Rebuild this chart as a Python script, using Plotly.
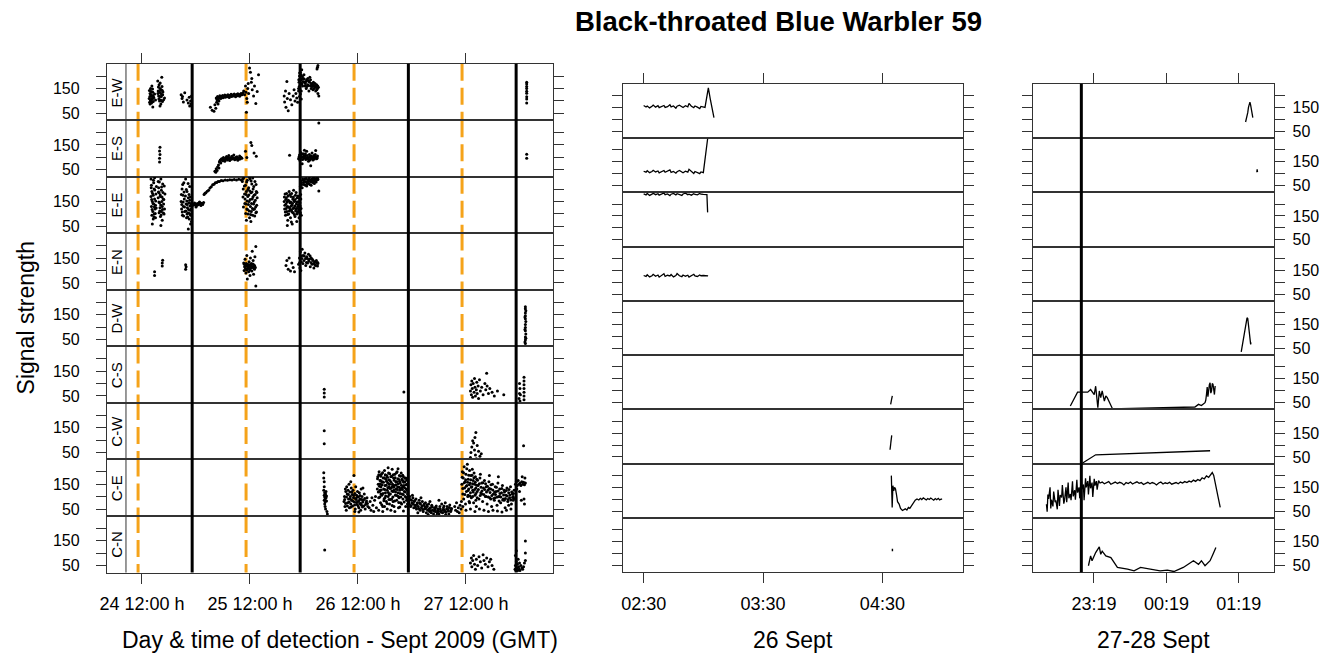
import plotly.graph_objects as go

W, H = 1336, 655
FONT = "Liberation Sans, Arial, sans-serif"

# ---------------- categories / ticks ----------------
stations = ["E-W", "E-S", "E-E", "E-N", "D-W", "C-S", "C-W", "C-E", "C-N"]

left_tickvals = [12, 36, 60, 84]          # hours since 24 Sept 00:00 GMT
left_ticktext = ["24 12:00 h", "25 12:00 h", "26 12:00 h", "27 12:00 h"]
mid_tickvals = [2.5, 3.5, 4.5]            # hours on 26 Sept
mid_ticktext = ["02:30", "03:30", "04:30"]
right_tickvals = [23.3167, 24.3167, 25.3167]  # hours since 27 Sept 00:00
right_ticktext = ["23:19", "00:19", "01:19"]
y_tickvals = [50, 100, 150, 200]
y_ticktext = ["50", "", "150", ""]

noon_hours = [11.13, 35.13, 59.13, 83.13]          # orange dashed lines (left panel)
sunset_hours_left = [23.15, 47.15, 71.2, 95.15]     # black lines (left panel)
sunset_hours_right = [23.142]                       # black line (right panel)

# ---------------- left panel detections (hour, signal) ----------------
left_ew = [
    (13.6,110),(13.7,95),(13.8,130),(13.8,88),(13.9,150),(14.0,102),(14.1,120),(14.1,92),(14.2,160),(14.3,108),
    (14.4,135),(14.5,98),(14.6,115),(14.8,128),(15.0,104),(15.5,180),(15.6,140),(15.7,120),(15.8,165),(15.9,100),
    (16.0,150),(16.1,132),(16.2,88),(16.3,118),(16.4,195),(16.5,142),(16.6,125),(16.8,105),(17.0,112),(14.4,76),(16.0,80),
    (20.7,125),(20.9,110),(21.0,118),(21.2,96),(21.5,133),(22.0,104),(22.3,92),(22.5,115),(22.6,80),(22.8,100),(22.9,88),(23.0,120),
    (27.2,75),(27.6,62),(28.0,58),(28.2,85),(28.4,70),(28.6,95),(28.9,88),(29.1,100),
    (28.5,112),(28.7,104),(28.8,118),(29.0,109),(29.2,115),(29.3,121),(29.5,110),(29.7,117),(29.9,122),(30.0,113),
    (30.2,119),(30.4,124),(30.5,115),(30.7,121),(30.9,117),(31.1,125),(31.2,120),(31.4,114),(31.6,122),(31.8,127),
    (31.9,118),(32.1,124),(32.3,120),(32.5,128),(32.6,122),(32.8,117),(33.0,126),(33.2,121),(33.3,129),(33.5,124),
    (33.7,119),(33.9,127),(34.0,130),(34.2,125),(34.4,132),
    (34.6,140),(34.8,125),(35.0,160),(35.1,135),(35.2,54),(35.3,110),(35.4,95),(35.5,150),(35.7,130),(35.9,232),
    (36.1,215),(36.3,175),(36.5,145),(36.8,120),(37.0,160),(37.3,90),(37.6,138),(37.9,205),(36.4,190),(35.6,170),
    (43.6,120),(43.7,96),(43.9,140),(44.0,75),(44.2,178),(44.3,110),(44.5,60),(44.7,130),(45.0,105),(45.3,85),
    (45.6,120),(45.8,145),(46.0,100),(46.2,130),(46.4,112),(46.6,95),(46.8,140),(47.0,118),(47.2,128),(47.4,108),
    (46.8,150),(46.9,175),(47.0,200),(47.1,165),(47.2,215),(47.3,185),(47.4,140),(47.5,225),(47.7,160),(47.8,190),
    (48.0,205),(48.1,175),(48.3,170),(48.5,150),(48.6,185),(48.8,165),(49.0,180),(49.1,140),(49.3,195),(49.5,160),
    (49.6,150),(49.8,170),(50.0,145),(50.1,175),(50.3,160),(50.5,155),(50.6,140),(50.8,165),(51.0,150),(51.1,130),
    (51.2,155),(51.3,120),(51.0,235),(50.9,228),(51.1,242),
    (97.5,92),(97.5,108),(97.5,117),(97.5,131),(97.5,139),(97.5,150),(97.5,158),(97.5,168),(97.5,175),
]
left_ew_extra = [
    (13.65,142),(13.75,118),(13.85,104),(13.95,126),(14.05,138),(14.15,110),(14.25,96),(14.35,148),(14.45,122),(14.55,112),
    (15.55,130),(15.65,156),(15.75,108),(15.85,138),(15.95,118),(16.05,172),(16.15,104),(16.25,145),(16.35,126),(16.45,158),
    (16.55,98),(16.65,136),
    (28.6,110),(29.1,113),(29.6,118),(30.1,117),(30.6,120),(31.0,119),(31.5,122),(32.0,121),(32.4,124),(32.9,123),
    (33.4,126),(33.8,125),(34.3,128),
    (46.85,185),(46.95,158),(47.05,212),(47.15,190),(47.25,172),(47.35,205),(47.45,188),(47.55,168),(47.65,198),(47.75,178),
    (48.05,188),(48.25,160),(48.45,178),(48.65,158),(48.85,190),(49.05,162),(49.25,175),(49.45,185),(49.65,168),(49.85,158),
    (50.05,165),(50.25,150),(50.45,170),(50.65,158),(50.85,145),(51.05,160),
]
left_es = [
    (15.9,82),(15.9,97),(16.0,112),(15.9,126),(16.0,141),
    (28.2,45),(28.4,40),(28.5,55),(28.7,48),(28.8,62),(29.0,70),(29.1,58),
    (29.2,82),(29.4,90),(29.5,78),(29.7,95),(29.9,87),(30.1,100),(30.2,92),(30.4,85),(30.6,98),(30.8,104),
    (31.0,90),(31.1,96),(31.3,108),(31.5,88),(31.7,99),(31.9,93),(32.0,105),(32.2,97),(32.4,110),(32.6,91),
    (32.8,100),(32.9,95),(33.1,103),(33.3,89),(33.5,98),(33.7,106),(33.8,94),(34.0,101),(34.2,97),
    (35.0,125),(35.3,100),(36.2,160),(36.4,148),(36.9,118),(37.4,105),
    (44.8,109),
    (46.8,95),(47.0,110),(47.1,88),(47.3,120),(47.5,102),(47.6,75),(47.8,115),(48.0,98),(48.2,106),(48.4,92),
    (48.6,125),(48.8,100),(49.0,85),(49.2,112),(49.4,104),(49.6,96),(49.8,118),(50.0,90),(50.2,108),(50.4,100),
    (50.6,128),(50.8,95),(51.0,106),(49.5,67),(48.1,129),
    (51.3,238),
    (97.5,97),(97.5,113),
]
left_es_extra = [
    (29.3,86),(29.6,92),(30.0,96),(30.3,89),(30.7,94),(31.2,101),(31.6,94),(32.1,100),(32.5,96),(33.0,98),(33.4,94),(33.9,99),
    (46.9,102),(47.2,96),(47.45,112),(47.7,92),(47.95,105),(48.3,115),(48.5,98),(48.7,108),(48.95,94),(49.1,100),
    (49.35,90),(49.65,106),(49.9,98),(50.1,102),(50.3,94),(50.5,112),(50.7,102),(50.95,98),
]
left_ee = [
    (14.0,240),(14.1,215),(14.2,190),(14.0,170),(14.3,150),(14.1,130),(14.4,110),(14.2,95),(14.5,80),(14.3,60),
    (14.6,225),(14.7,200),(14.5,175),(14.8,160),(14.6,140),(14.9,120),(14.7,100),(15.0,85),(14.8,245),(15.1,180),
    (15.0,135),(15.2,210),(15.6,230),(15.7,205),(15.8,185),(15.6,165),(15.9,145),(16.0,125),(15.8,105),(16.1,90),
    (16.2,240),(16.3,195),(16.1,170),(16.4,150),(16.5,130),(16.3,110),(16.6,220),(16.7,160),(16.8,140),(16.9,100),
    (17.0,120),(16.5,75),(17.1,180),(16.2,54),
    (20.7,150),(20.8,120),(20.9,200),(21.0,95),(21.1,175),(21.2,130),(21.4,160),(21.5,110),(21.7,240),(21.8,140),
    (21.9,85),(22.0,190),(22.1,125),(22.2,105),(22.3,165),(22.4,145),(22.5,80),(22.6,210),(22.7,115),(22.8,95),
    (22.9,135),(23.0,70),(22.6,155),(22.3,40),(22.8,60),(21.3,225),(22.0,100),(22.9,120),
    (23.1,133),(23.3,140),(23.5,136),(23.7,144),(23.9,138),(24.1,132),(24.3,142),(24.5,137),(24.7,145),(24.9,139),
    (25.1,134),(25.3,143),(25.5,138),(25.7,146),(24.0,128),(24.8,148),
    (25.8,178),(26.0,183),(26.2,185),(26.5,191),(26.8,195),(27.1,204),(27.4,209),(27.7,217),(28.0,219),(28.3,225),
    (28.6,226),(28.9,230),(29.2,230),(29.6,234),(30.0,233),(30.5,236),(31.0,235),(31.5,237),(32.0,236),(32.5,238),
    (33.0,236),(33.5,239),(34.0,237),(34.4,239),
    (34.3,230),(34.5,200),(34.6,245),(34.8,180),(34.9,160),(35.0,215),(35.1,140),(35.2,190),(35.3,120),(35.4,235),
    (35.5,170),(35.6,100),(35.7,205),(35.8,150),(35.9,85),(36.0,240),(36.1,130),(36.2,185),(36.3,110),(36.4,220),
    (36.5,160),(36.6,95),(36.7,200),(36.8,140),(36.9,175),(37.0,120),(37.1,230),(37.2,155),(37.3,105),(37.4,190),
    (37.5,135),(37.6,165),(35.2,75),(36.2,70),(35.9,246),(36.6,244),
    (43.6,150),(43.7,120),(43.8,180),(43.9,95),(44.0,140),(44.1,165),(44.2,110),(44.3,130),(44.4,75),(44.5,155),
    (44.6,100),(44.7,190),(44.8,125),(44.9,145),(45.0,85),(45.1,170),(45.2,115),(45.3,135),(45.4,60),(45.5,160),
    (45.6,105),(45.7,195),(45.8,125),(45.9,150),(46.0,90),(46.1,175),(46.2,120),(46.3,140),(46.4,100),(46.5,165),
    (46.6,130),(46.7,110),(46.8,150),(46.9,85),(47.0,125),(47.1,145),(47.2,105),(47.3,160),(47.4,95),(44.3,54),
    (45.2,68),(46.4,70),
    (47.2,210),(47.4,225),(47.6,205),(47.8,235),(48.0,218),(48.2,240),(48.4,228),(48.6,212),(48.8,236),(49.0,222),
    (49.2,244),(49.4,230),(49.6,215),(49.8,238),(50.0,226),(50.2,245),(50.4,232),(50.6,240),(50.8,236),(51.0,243),
    (51.1,238),(51.3,192),
]
left_ee_extra = [
    (14.05,205),(14.15,158),(14.25,118),(14.35,182),(14.45,142),(14.55,235),(14.65,88),(14.75,128),(14.85,196),(14.95,102),
    (15.05,152),(15.15,124),(15.65,188),(15.75,148),(15.85,228),(15.95,112),(16.05,176),(16.15,136),(16.25,96),(16.35,208),
    (16.45,168),(16.55,118),(16.65,186),(16.75,104),(16.85,158),(16.95,212),
    (20.75,178),(20.85,138),(20.95,108),(21.05,218),(21.15,148),(21.25,92),(21.35,188),(21.45,128),(21.65,172),(21.75,112),
    (21.85,198),(21.95,152),(22.05,138),(22.15,88),(22.25,222),(22.35,118),(22.45,178),(22.55,102),(22.65,132),(22.75,168),
    (22.85,142),(22.95,98),
    (34.45,168),(34.55,128),(34.75,212),(34.85,142),(35.05,102),(35.15,178),(35.25,228),(35.35,152),(35.45,118),(35.55,198),
    (35.65,138),(35.75,176),(35.85,112),(35.95,192),(36.05,158),(36.15,98),(36.25,232),(36.35,142),(36.45,188),(36.55,122),
    (36.65,168),(36.75,118),(36.85,210),(36.95,148),(37.05,92),(37.15,178),(37.25,128),(37.35,218),(37.45,108),(37.55,186),
    (43.65,168),(43.75,135),(43.85,108),(43.95,158),(44.05,122),(44.15,182),(44.25,148),(44.35,98),(44.45,172),(44.55,128),
    (44.65,152),(44.75,112),(44.85,178),(44.95,118),(45.05,148),(45.15,132),(45.25,182),(45.35,108),(45.45,142),(45.55,122),
    (45.65,168),(45.75,152),(45.85,98),(45.95,132),(46.05,158),(46.15,112),(46.25,186),(46.35,122),(46.45,148),(46.55,108),
    (46.65,172),(46.75,138),(46.85,118),(46.95,162),(47.05,102),(47.15,132),(47.25,178),(47.35,122),
    (47.3,232),(47.5,218),(47.7,240),(47.9,226),(48.1,232),(48.3,215),(48.5,242),(48.7,222),(48.9,230),(49.1,238),
    (49.3,218),(49.5,236),(49.7,228),(49.9,242),(50.1,234),(50.3,222),(50.5,240),(50.7,228),(50.9,244),
]
left_en = [
    (14.8,80),(14.8,95),(16.5,118),(16.5,130),(16.6,141),(21.7,105),(21.8,115),(21.7,123),
    (34.6,130),(34.7,100),(34.8,115),(34.9,145),(35.0,108),(35.1,90),(35.2,120),(35.3,160),(35.4,105),(35.5,125),
    (35.6,112),(35.7,95),(35.8,135),(35.9,118),(36.0,102),(36.1,150),(36.2,110),(36.3,128),(36.4,98),(36.5,177),
    (36.6,116),(36.7,140),(36.8,85),(36.9,122),(37.0,105),(37.1,155),(37.2,112),(35.4,66),(36.0,80),(37.3,196),(37.3,38),
    (44.0,120),(44.2,140),(44.5,105),(44.7,150),(45.0,98),(45.3,130),(45.6,112),(45.9,95),
    (46.8,125),(47.0,150),(47.1,110),(47.2,175),(47.4,135),(47.6,185),(47.8,160),(48.0,140),(48.2,170),(48.4,120),
    (48.6,155),(48.8,130),(49.0,165),(49.2,145),(49.4,115),(49.6,150),(49.8,125),(50.0,140),(50.2,110),(50.4,135),
    (50.6,120),(50.8,130),(51.0,118),(51.1,128),(47.3,100),
]
left_en_extra = [
    (34.75,125),(34.95,118),(35.15,128),(35.25,102),(35.45,116),(35.65,120),(35.85,108),(36.05,124),(36.25,118),(36.45,112),
    (36.65,126),(36.85,110),(37.05,118),(47.05,132),(47.35,158),(47.55,148),(47.75,128),(48.05,158),(48.35,148),(48.55,132),
    (48.75,148),(49.05,138),(49.35,158),(49.55,132),(49.85,145),(50.15,128),(50.45,122),(50.75,140),(51.05,132),
]
left_dw = [
    (97.2,34),(97.2,48),(97.2,60),(97.3,72),(97.2,85),(97.2,98),(97.2,110),(97.3,122),(97.2,133),(97.2,145),
    (97.2,156),(97.3,165),(97.2,173),(97.2,181),(97.1,40),(97.3,55),(97.1,90),(97.1,140),
]
left_cs = [
    (52.5,46),(52.5,62),(52.5,77),(70.2,66),
    (85.0,70),(85.1,95),(85.2,55),(85.3,110),(85.4,80),(85.5,45),(85.6,100),(85.8,65),(85.9,120),(86.0,85),
    (86.1,50),(86.3,75),(86.4,105),(86.5,60),(86.7,90),(86.8,40),(87.0,115),(87.2,70),(87.5,85),(87.8,55),
    (88.6,141),(88.2,100),(88.4,75),(88.7,90),(89.0,60),(89.3,80),(89.8,65),(90.3,50),(91.0,70),(92.4,55),
    (95.8,40),(95.9,60),(96.0,80),(95.9,100),(96.1,55),(96.0,30),
    (96.9,125),(96.9,110),(96.9,95),(96.9,80),(96.9,65),(96.9,50),(96.9,35),
]
left_cw = [
    (52.5,137),(52.5,85),
    (85.0,30),(85.1,50),(85.3,72),(85.5,97),(85.7,88),(85.9,60),(86.1,40),(86.3,25),(86.5,78),(86.8,55),
    (87.1,35),(87.4,45),(86.0,110),(86.2,130),
    (96.8,77),
]
left_ce = [
    (52.4,196),(52.4,175),(52.5,160),(52.5,140),(52.4,125),(52.6,115),(52.5,105),(52.6,98),(52.7,90),(52.5,85),
    (52.7,78),(52.6,70),(52.8,110),(52.9,95),(52.7,60),(52.8,50),(53.0,82),(53.1,40),(53.2,30),(53.0,102),(52.9,120),
    (56.9,80),(57.0,100),(57.1,60),(57.2,130),(57.3,120),(57.4,45),(57.5,140),(57.6,110),(57.7,75),(57.8,125),
    (57.9,90),(58.0,150),(58.1,55),(58.2,118),(58.3,100),(58.4,70),(58.5,135),(58.6,85),(58.7,108),(58.8,62),
    (58.9,125),(59.0,95),(59.1,185),(59.2,78),(59.3,112),(59.4,50),(59.5,140),(59.6,88),(59.7,105),(59.8,68),
    (59.9,120),(60.0,80),(60.1,98),(60.2,55),(60.3,115),(60.4,72),(60.5,90),(60.6,45),(60.7,130),(60.8,65),
    (60.9,100),(61.0,58),(61.2,85),(61.4,110),(61.6,50),(61.8,75),(62.0,95),(62.2,60),(59.3,40),(58.4,160),
    (61.1,135),(60.2,38),
    (62.5,55),(62.7,80),(62.9,45),(63.1,95),(63.3,65),(63.5,40),(63.7,85),(63.9,100),(64.1,55),(64.3,130),
    (64.4,180),(64.5,150),(64.6,95),(64.7,200),(64.8,120),(64.9,165),(65.0,75),(65.1,140),(65.2,190),(65.3,105),
    (65.4,160),(65.5,60),(65.6,175),(65.7,130),(65.8,90),(65.9,205),(66.0,145),(66.1,115),(66.2,170),(66.3,80),
    (66.4,185),(66.5,125),(66.6,155),(66.7,100),(66.8,195),(66.9,140),(67.0,70),(67.1,165),(67.2,110),(67.3,180),
    (67.4,135),(67.5,90),(67.6,210),(67.7,150),(67.8,120),(67.9,175),(68.0,60),(68.1,145),(68.2,190),(68.3,105),
    (68.4,160),(68.5,130),(68.6,85),(68.7,200),(68.8,140),(68.9,115),(69.0,170),(69.1,95),(69.2,185),(69.3,125),
    (69.4,155),(69.5,75),(69.6,195),(69.7,135),(69.8,110),(69.9,165),(70.0,90),(70.1,180),(70.2,145),(70.3,120),
    (70.4,160),(70.5,100),(70.6,175),(70.7,130),(70.8,85),(70.9,150),(71.0,110),(71.1,95),
    (64.6,45),(65.5,40),(66.5,50),(67.3,45),(68.2,40),(69.0,55),(70.1,42),(65.1,110),(66.0,95),(67.0,150),
    (68.0,125),(69.0,100),(70.0,140),(71.0,70),(66.7,216),(68.9,212),(65.0,165),(66.9,88),(68.6,160),(69.7,70),
    (70.6,60),(64.9,125),(67.8,80),(69.4,130),
    (71.2,90),(71.4,70),(71.5,100),(71.7,60),(71.9,85),(72.0,75),(72.2,95),(72.4,55),(72.5,80),(72.7,65),
    (72.9,90),(73.0,50),(73.2,75),(73.4,60),(73.6,85),(73.8,45),(73.9,70),(74.1,55),(74.3,80),(74.5,40),
    (74.6,65),(74.8,50),(75.0,75),(75.2,35),(75.4,60),(75.5,45),(75.7,70),(75.9,40),(76.1,55),(76.3,35),
    (76.4,65),(76.6,45),(76.8,30),(77.0,55),(77.2,40),(77.4,62),(77.6,35),(77.8,50),(78.0,30),(78.2,60),
    (78.4,42),(78.6,70),(78.8,35),(79.0,55),(79.2,45),(79.4,75),(79.6,38),(79.8,60),(80.0,48),(80.2,30),
    (80.4,66),(80.6,40),(80.8,52),(72.1,105),(74.0,95),(76.0,80),(78.0,85),(73.3,35),(75.6,28),(77.5,25),(79.5,28),
    (81.5,60),(81.7,45),(81.9,75),(82.1,40),(82.3,55),(82.5,35),(82.7,65),(82.9,50),(83.0,80),
    (83.1,150),(83.2,200),(83.3,110),(83.4,175),(83.5,90),(83.6,220),(83.7,135),(83.8,160),(83.9,70),(84.0,190),
    (84.1,120),(84.2,145),(84.3,230),(84.4,100),(84.5,170),(84.6,130),(84.7,80),(84.8,205),(84.9,155),(85.0,115),
    (85.1,185),(85.2,95),(85.3,140),(85.4,210),(85.5,125),(85.6,165),(85.7,75),(85.8,195),(85.9,150),(86.0,105),
    (86.1,180),(86.2,135),(86.3,60),(86.4,170),(86.5,120),(86.7,145),(86.9,90),(87.1,175),(87.3,115),(87.5,155),
    (87.7,80),(87.9,135),(88.1,165),(88.3,100),(88.5,140),(88.7,70),(88.9,125),(89.1,160),(89.3,95),(89.5,130),
    (89.7,60),(89.9,150),(90.1,110),(90.3,85),(90.5,140),(90.7,120),(90.9,65),(91.1,155),(91.3,100),(91.5,130),
    (91.7,75),(91.9,115),(92.1,145),(92.3,90),(92.5,125),(92.7,55),(92.9,105),(93.1,135),(93.3,80),(93.5,115),
    (93.7,95),(93.9,140),(94.1,70),(94.3,110),(94.5,85),(94.7,125),
    (83.3,60),(84.0,45),(85.0,50),(86.0,40),(87.0,50),(88.0,45),(89.0,40),(90.0,45),(91.0,42),(92.0,38),
    (93.0,45),(94.0,50),(84.5,105),(85.5,100),(86.5,95),(87.5,110),(88.5,100),(89.5,90),(90.5,95),(91.5,100),
    (92.5,85),(93.5,65),(94.5,100),(87.2,190),(89.2,185),(91.2,180),(84.8,75),(86.2,85),
    (95.0,150),(95.2,160),(95.4,145),(95.6,165),(95.8,150),(96.0,155),(96.2,145),(96.4,160),(96.6,150),(96.8,158),
    (97.0,148),(97.2,155),(95.3,130),(95.9,120),(96.5,180),(97.1,175),(96.9,90),(97.0,70),(96.3,85),
]
left_ce_extra = [
    (57.05,88),(57.25,72),(57.45,98),(57.65,62),(57.85,108),(58.05,78),(58.25,92),(58.45,58),(58.65,118),(58.85,82),
    (59.05,104),(59.25,66),(59.45,92),(59.65,76),(59.85,98),(60.05,62),(60.25,84),(60.45,104),(60.65,72),(60.85,88),
    (61.05,78),(61.3,62),(61.5,92),(61.7,68),(61.9,82),(62.1,72),
    (64.35,172),(64.52,118),(64.63,188),(64.78,142),(64.86,98),(64.97,152),(65.08,182),(65.17,126),(65.28,67),(65.36,148),
    (65.47,196),(65.58,112),(65.66,158),(65.77,83),(65.88,176),(65.96,128),(66.07,188),(66.16,102),(66.27,146),(66.36,162),
    (66.47,72),(66.56,178),(66.63,136),(66.74,116),(66.86,168),(66.95,108),(67.06,192),(67.15,132),(67.24,88),(67.36,158),
    (67.45,182),(67.54,122),(67.66,142),(67.75,98),(67.84,188),(67.96,138),(68.05,166),(68.14,82),(68.26,176),(68.35,118),
    (68.44,148),(68.56,196),(68.65,104),(68.74,128),(68.86,172),(68.95,152),(69.06,76),(69.14,138),(69.25,162),(69.36,112),
    (69.45,182),(69.54,98),(69.66,146),(69.75,170),(69.86,128),(69.95,186),(70.06,108),(70.15,158),(70.26,78),(70.35,136),
    (70.46,174),(70.55,118),(70.66,148),(70.75,96),(70.86,166),(70.95,126),(71.05,86),(65.9,60),(67.6,64),(69.3,58),
    (71.3,78),(71.6,88),(71.8,64),(72.3,70),(72.6,84),(72.8,58),(73.1,68),(73.5,52),(73.7,74),(74.2,62),
    (74.4,48),(74.7,70),(74.9,58),(75.1,52),(75.3,66),(75.8,50),(76.2,44),(76.5,58),(76.9,42),(77.1,48),
    (77.3,56),(77.7,44),(77.9,40),(78.3,50),(78.5,38),(78.9,46),(79.1,62),(79.3,40),(79.7,50),(80.1,42),
    (80.3,56),(80.7,46),
    (83.15,178),(83.28,132),(83.46,196),(83.62,156),(83.76,108),(83.93,168),(84.06,142),(84.18,212),(84.36,158),(84.48,124),
    (84.63,186),(84.77,148),(84.92,102),(85.06,168),(85.18,138),(85.34,186),(85.46,152),(85.62,118),(85.76,176),(85.92,128),
    (86.06,158),(86.22,112),(86.38,146),(86.56,166),(86.76,128),(86.96,152),(87.16,104),(87.36,138),(87.56,122),(87.76,156),
    (87.96,108),(88.16,128),(88.36,152),(88.56,118),(88.76,142),(88.96,98),(89.16,132),(89.36,116),(89.56,148),(89.76,104),
    (89.96,126),(90.16,92),(90.36,118),(90.56,108),(90.76,138),(90.96,98),(91.16,122),(91.36,82),(91.56,112),(91.76,98),
    (91.96,132),(92.16,86),(92.36,106),(92.56,118),(92.76,92),(92.96,124),(93.16,102),(93.36,88),(93.56,128),(93.76,106),
    (93.96,86),(94.16,118),(94.36,96),(94.56,112),(94.76,92),
]
left_cn = [
    (52.6,113),
    (85.0,60),(85.2,80),(85.3,45),(85.5,70),(85.7,90),(85.9,55),(86.1,35),(86.3,75),(86.6,50),(86.9,85),
    (87.2,65),(87.5,40),(87.8,93),(88.0,70),(88.3,55),(88.6,80),(88.9,45),(89.2,65),(89.5,75),(89.8,50),(90.2,35),
    (94.9,35),(95.0,50),(95.1,30),(95.2,65),(95.3,40),(95.4,55),(95.5,30),(95.6,75),(95.7,45),(95.8,35),
    (95.9,60),(96.0,30),(96.2,50),(96.4,40),(96.6,35),(96.8,45),(97.0,60),(97.2,70),(97.2,100),(97.2,149),
    (95.0,90),(95.2,110),
]

# ---------------- middle panel (26 Sept, hour of day, signal) ----------------
mid_ew = [
    (2.50,158),(2.52,152),(2.53,156),(2.55,148),(2.57,155),(2.58,160),(2.60,151),(2.62,157),(2.63,149),(2.65,154),
    (2.67,158),(2.68,150),(2.70,153),(2.72,161),(2.73,152),(2.75,156),(2.77,147),(2.78,155),(2.80,159),(2.82,153),
    (2.83,150),(2.85,157),(2.87,152),(2.88,167),(2.90,155),(2.92,149),(2.93,156),(2.95,151),(2.97,145),(2.98,154),
    (3.00,150),(3.014,150),(3.042,232),(3.056,183),(3.06,180),(3.089,107),
]
mid_es = [
    (2.50,110),(2.52,106),(2.53,112),(2.55,104),(2.57,109),(2.58,114),(2.60,107),(2.62,111),(2.63,103),(2.65,108),
    (2.67,113),(2.68,106),(2.70,110),(2.72,116),(2.73,105),(2.75,109),(2.77,102),(2.78,108),(2.80,113),(2.82,107),
    (2.83,104),(2.85,110),(2.87,106),(2.88,118),(2.90,108),(2.92,101),(2.93,109),(2.95,104),(2.97,100),(2.98,107),
    (3.00,104),(3.036,246),
]
mid_ee = [
    (2.50,242),(2.52,238),(2.53,244),(2.55,236),(2.57,241),(2.58,245),(2.60,239),(2.62,243),(2.63,237),(2.65,240),
    (2.67,246),(2.68,239),(2.70,242),(2.72,235),(2.73,241),(2.75,244),(2.77,238),(2.78,243),(2.80,240),(2.82,236),
    (2.83,242),(2.85,245),(2.87,239),(2.88,241),(2.90,237),(2.92,243),(2.93,240),(2.95,238),(2.97,244),(2.98,241),
    (3.00,240),(3.03,239),(3.036,165),
]
mid_en = [
    (2.50,128),(2.52,124),(2.53,131),(2.55,122),(2.57,127),(2.58,133),(2.60,125),(2.62,130),(2.63,121),(2.65,128),
    (2.67,135),(2.68,124),(2.70,129),(2.72,126),(2.73,132),(2.75,122),(2.77,128),(2.78,136),(2.80,127),(2.82,123),
    (2.83,130),(2.85,125),(2.87,129),(2.88,121),(2.90,127),(2.92,133),(2.93,126),(2.95,124),(2.97,130),(2.98,127),
    (3.00,128),(3.04,126),
]
mid_cs = [(4.569,43),(4.574,58),(4.578,70),(4.583,78)]
mid_cw = [(4.564,80),(4.571,110),(4.578,140)]
mid_ce = [
    (4.575,199),(4.578,120),(4.582,66),(4.588,157),(4.595,135),(4.602,150),(4.610,143),(4.618,120),(4.627,90),(4.640,80),
    (4.652,62),(4.668,53),(4.680,58),(4.692,60),(4.705,55),(4.718,66),(4.730,62),(4.745,75),(4.760,87),(4.775,96),
    (4.790,101),(4.805,97),(4.818,104),(4.830,99),(4.843,106),(4.855,100),(4.868,97),(4.880,103),(4.893,99),(4.905,105),
    (4.918,100),(4.930,96),(4.943,103),(4.955,98),(4.968,104),(4.980,97),(4.993,101),(5.000,99),
]
mid_cn = [(4.578,115),(4.590,115)]

# ---------------- right panel (27-28 Sept, hours since 27 Sept 00:00) ----------------
right_ew = [(25.41,89),(25.43,110),(25.44,128),(25.45,150),(25.46,168),(25.47,172),(25.48,160),(25.49,140),(25.50,120),(25.51,107)]
right_es = [(25.565,106),(25.57,118),(25.575,106)]
right_dw = [
    (25.35,36),(25.36,55),(25.37,70),(25.38,95),(25.39,115),(25.40,135),(25.41,155),(25.42,170),(25.43,178),
    (25.44,175),(25.45,150),(25.46,120),(25.47,90),(25.48,67),(25.485,75),
]
right_cs = [
    (22.99,36),(23.09,94),(23.23,94),(23.27,105),(23.32,84),(23.34,119),(23.37,29),(23.39,99),(23.41,71),(23.43,99),
    (23.46,57),(23.48,78),(23.50,71),(23.53,50),(23.57,26),(23.69,25),(24.71,32),(24.76,43),(24.80,38),(24.85,50),
    (24.86,60),(24.87,84),(24.88,115),(24.89,75),(24.90,119),(24.91,125),(24.92,133),(24.93,90),(24.94,99),(24.95,130),
    (24.96,127),(24.97,95),(24.98,84),(24.99,120),
]
right_cw = [(23.16,25),(23.34,59),(24.92,76)]
right_ce = [
    (22.66,80),(22.67,48),(22.68,120),(22.69,102),(22.71,150),(22.72,62),(22.73,98),(22.75,70),(22.76,132),(22.78,88),
    (22.79,96),(22.81,58),(22.82,140),(22.84,72),(22.85,118),(22.87,108),(22.88,160),(22.90,82),(22.91,96),(22.93,150),
    (22.94,88),(22.96,170),(22.97,104),(22.99,122),(23.00,96),(23.02,175),(23.03,112),(23.05,138),(23.06,98),(23.08,182),
    (23.09,128),(23.11,150),(23.12,104),(23.14,190),(23.15,142),(23.17,162),(23.18,96),(23.20,188),(23.21,150),(23.23,176),
    (23.24,120),(23.26,198),(23.27,146),(23.29,170),(23.30,110),(23.32,186),(23.33,158),(23.35,176),(23.36,140),(23.38,178),
    (23.40,168),(23.43,172),(23.46,165),(23.49,170),(23.52,174),(23.55,163),(23.58,169),(23.61,172),(23.64,166),(23.67,171),
    (23.70,168),(23.73,160),(23.76,170),(23.79,166),(23.82,172),(23.85,164),(23.88,169),(23.91,173),(23.94,167),(23.97,170),
    (24.00,162),(24.03,168),(24.06,171),(24.09,165),(24.12,170),(24.15,167),(24.18,160),(24.21,168),(24.24,172),(24.27,164),
    (24.30,169),(24.33,166),(24.36,171),(24.39,163),(24.42,168),(24.45,170),(24.48,165),(24.51,172),(24.54,168),(24.57,174),
    (24.60,170),(24.63,176),(24.66,172),(24.69,180),(24.72,175),(24.75,183),(24.78,178),(24.81,190),(24.84,185),(24.87,198),
    (24.90,192),(24.93,205),(24.95,212),(24.97,200),(25.00,160),(25.03,110),(25.06,66),
]
right_cn = [
    (23.24,49),(23.27,90),(23.29,70),(23.34,104),(23.39,128),(23.41,97),(23.43,110),(23.48,90),(23.55,83),(23.64,42),
    (23.78,35),(23.87,28),(23.96,42),(24.10,35),(24.23,28),(24.33,31),(24.42,25),(24.55,42),(24.62,55),(24.69,70),
    (24.76,55),(24.80,70),(24.85,49),(24.92,70),(24.96,97),(25.00,125),
]

left_data = {"E-W": left_ew + left_ew_extra, "E-S": left_es + left_es_extra, "E-E": left_ee + left_ee_extra,
             "E-N": left_en + left_en_extra, "D-W": left_dw, "C-S": left_cs, "C-W": left_cw,
             "C-E": left_ce + left_ce_extra, "C-N": left_cn}
mid_data = {"E-W": mid_ew, "E-S": mid_es, "E-E": mid_ee, "E-N": mid_en,
            "C-S": mid_cs, "C-W": mid_cw, "C-E": mid_ce, "C-N": mid_cn}
right_data = {"E-W": right_ew, "E-S": right_es, "D-W": right_dw,
              "C-S": right_cs, "C-W": right_cw, "C-E": right_ce, "C-N": right_cn}

# ---------------- layout geometry (pixels -> paper fractions) ----------------
def fx(px):
    return px / W

def fy(py):
    return 1 - py / H

columns = [
    dict(x0=100.4, x1=549.0, top=64.0, rowh=56.7, rng=[4.196, 103.37], tv=left_tickvals, tt=left_ticktext,
         ylab="left", data=left_data, mode="markers"),
    dict(x0=619.3, x1=960.7, top=84.0, rowh=54.44, rng=[2.3275, 5.1725], tv=mid_tickvals, tt=mid_ticktext,
         ylab=None, data=mid_data, mode="lines"),
    dict(x0=1031.0, x1=1274.0, top=84.0, rowh=54.44, rng=[22.469, 25.807], tv=right_tickvals, tt=right_ticktext,
         ylab="right", data=right_data, mode="lines"),
]
YRANGE = [22, 249]
LINEC = "#333333"
ORANGE = "#F5A31A"

fig = go.Figure()
layout = {}
shapes = []
annotations = []

for c, col in enumerate(columns):
    for r, st in enumerate(stations):
        n = c * 9 + r + 1
        xa = "xaxis" if n == 1 else f"xaxis{n}"
        ya = "yaxis" if n == 1 else f"yaxis{n}"
        xr = "x" if n == 1 else f"x{n}"
        yr = "y" if n == 1 else f"y{n}"
        ytop = col["top"] + r * col["rowh"]
        ybot = ytop + col["rowh"]

        xax = dict(domain=[fx(col["x0"]), fx(col["x1"])], anchor=yr, range=col["rng"],
                   showline=True, mirror=True, linecolor=LINEC, linewidth=1,
                   showgrid=False, zeroline=False, fixedrange=True,
                   tickfont=dict(family=FONT, size=18, color="black"))
        if r == 0:
            xax.update(side="top", ticks="outside", ticklen=10, tickwidth=1, tickcolor=LINEC,
                       tickvals=col["tv"], showticklabels=False)
        elif r == 8:
            xax.update(side="bottom", ticks="outside", ticklen=10, tickwidth=1, tickcolor=LINEC,
                       tickvals=col["tv"], ticktext=col["tt"], showticklabels=True, ticklabelstandoff=5)
        else:
            xax.update(ticks="", showticklabels=False)
        layout[xa] = xax

        yax = dict(domain=[fy(ybot), fy(ytop)], anchor=xr, range=YRANGE,
                   showline=True, mirror="ticks", linecolor=LINEC, linewidth=1,
                   ticks="outside", ticklen=10, tickwidth=1, tickcolor=LINEC,
                   tickvals=y_tickvals, ticktext=y_ticktext,
                   showgrid=False, zeroline=False, fixedrange=True,
                   tickfont=dict(family=FONT, size=16, color="black"))
        if col["ylab"] == "left":
            yax.update(side="left", showticklabels=True, ticklabelstandoff=13)
        elif col["ylab"] == "right":
            yax.update(side="right", showticklabels=True, ticklabelstandoff=4)
        else:
            yax.update(showticklabels=False)
        layout[ya] = yax

        pts = col["data"].get(st, [])
        xs = [p[0] for p in pts]
        ys = [p[1] for p in pts]
        if col["mode"] == "markers":
            fig.add_trace(go.Scatter(x=xs, y=ys, xaxis=xr, yaxis=yr, mode="markers",
                                     marker=dict(size=3, color="black", line=dict(width=0)),
                                     showlegend=False, hoverinfo="skip"))
        else:
            w = 2.5 if (c == 1 and st == "C-N") else 1.3
            fig.add_trace(go.Scatter(x=xs, y=ys, xaxis=xr, yaxis=yr, mode="lines",
                                     line=dict(color="black", width=w),
                                     showlegend=False, hoverinfo="skip"))

        if c == 0:
            for hh in noon_hours:
                shapes.append(dict(type="line", xref=xr, yref=f"{yr} domain", x0=hh, x1=hh, y0=1, y1=0,
                                   line=dict(color=ORANGE, width=3, dash="17px,7px"), layer="below"))
            annotations.append(dict(text=st, xref=xr, yref=f"{yr} domain", x=6.32, y=0.5,
                                    textangle=-90, showarrow=False,
                                    font=dict(family=FONT, size=15, color="black")))

# strip separator line in left panel
shapes.append(dict(type="line", xref="x", yref="paper", x0=8.44, x1=8.44, y0=fy(574.3), y1=fy(64),
                   line=dict(color=LINEC, width=1)))
# black vertical lines
for hh in sunset_hours_left:
    shapes.append(dict(type="line", xref="x", yref="paper", x0=hh, x1=hh, y0=fy(574.3), y1=fy(64),
                       line=dict(color="black", width=3)))
for hh in sunset_hours_right:
    shapes.append(dict(type="line", xref="x19", yref="paper", x0=hh, x1=hh, y0=fy(574), y1=fy(84),
                       line=dict(color="black", width=3)))

# titles
annotations.append(dict(text="Black-throated Blue Warbler 59", xref="paper", yref="paper",
                        x=fx(775.8), y=fy(21.5), xanchor="center", yanchor="middle", showarrow=False,
                        borderpad=0,
                        font=dict(family=FONT, size=27.5, color="black", weight="bold")))
annotations.append(dict(text="Signal strength", xref="paper", yref="paper", x=fx(19), y=fy(318.5),
                        xanchor="center", yanchor="middle", textangle=-90, showarrow=False,
                        font=dict(family=FONT, size=23, color="black")))
for txt, cx in [("Day & time of detection - Sept 2009 (GMT)", 334.3), ("26 Sept", 790.0), ("27-28 Sept", 1152.5)]:
    annotations.append(dict(text=txt, xref="paper", yref="paper", x=fx(cx), y=fy(641.5),
                            xanchor="center", yanchor="middle", showarrow=False, borderpad=0,
                            font=dict(family=FONT, size=23, color="black")))

fig.update_layout(
    width=W, height=H,
    margin=dict(l=0, r=0, t=0, b=0),
    paper_bgcolor="white", plot_bgcolor="white",
    showlegend=False,
    shapes=shapes, annotations=annotations,
    font=dict(family=FONT, color="black"),
    **layout,
)

# remove the browser's default 8px page margin so the figure fills the window exactly
fig.write_html("out.html", config={"displayModeBar": False},
               post_script="document.body.style.margin='0px';")
